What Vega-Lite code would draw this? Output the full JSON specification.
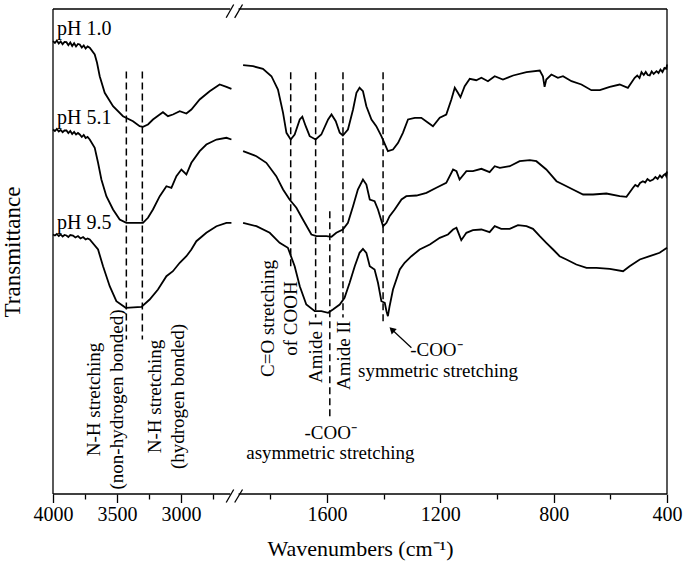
{
  "$schema": "https://vega.github.io/schema/vega-lite/v6.json",
  "description": "FTIR spectra at three pH values with a broken wavenumber axis.",
  "width": 614,
  "height": 485,
  "autosize": {"type": "none"},
  "padding": {"left": 53, "top": 9, "right": 18, "bottom": 75},
  "config": {
    "font": "Liberation Serif",
    "view": {"stroke": null},
    "text": {"font": "Liberation Serif", "color": "black"}
  },
  "datasets": {
    "spectra": [
      {"s": "1.0", "g": "L", "wn": 4000, "t": 452.8},
      {"s": "1.0", "g": "L", "wn": 3985, "t": 451},
      {"s": "1.0", "g": "L", "wn": 3970, "t": 453.5},
      {"s": "1.0", "g": "L", "wn": 3955, "t": 450.5},
      {"s": "1.0", "g": "L", "wn": 3940, "t": 452.5},
      {"s": "1.0", "g": "L", "wn": 3925, "t": 449.8},
      {"s": "1.0", "g": "L", "wn": 3910, "t": 452},
      {"s": "1.0", "g": "L", "wn": 3895, "t": 451.8},
      {"s": "1.0", "g": "L", "wn": 3880, "t": 448.8},
      {"s": "1.0", "g": "L", "wn": 3865, "t": 451.5},
      {"s": "1.0", "g": "L", "wn": 3850, "t": 448},
      {"s": "1.0", "g": "L", "wn": 3835, "t": 450.8},
      {"s": "1.0", "g": "L", "wn": 3820, "t": 447.5},
      {"s": "1.0", "g": "L", "wn": 3805, "t": 450},
      {"s": "1.0", "g": "L", "wn": 3791, "t": 449.5},
      {"s": "1.0", "g": "L", "wn": 3775, "t": 446.5},
      {"s": "1.0", "g": "L", "wn": 3760, "t": 448.5},
      {"s": "1.0", "g": "L", "wn": 3745, "t": 445.5},
      {"s": "1.0", "g": "L", "wn": 3730, "t": 447.5},
      {"s": "1.0", "g": "L", "wn": 3713, "t": 446.2},
      {"s": "1.0", "g": "L", "wn": 3674, "t": 439.5},
      {"s": "1.0", "g": "L", "wn": 3656, "t": 431.2},
      {"s": "1.0", "g": "L", "wn": 3635, "t": 417.8},
      {"s": "1.0", "g": "L", "wn": 3596, "t": 401.2},
      {"s": "1.0", "g": "L", "wn": 3531, "t": 387.8},
      {"s": "1.0", "g": "L", "wn": 3453, "t": 377.8},
      {"s": "1.0", "g": "L", "wn": 3375, "t": 372.8},
      {"s": "1.0", "g": "L", "wn": 3323, "t": 367.8},
      {"s": "1.0", "g": "L", "wn": 3297, "t": 367.2},
      {"s": "1.0", "g": "L", "wn": 3258, "t": 369.5},
      {"s": "1.0", "g": "L", "wn": 3219, "t": 374.5},
      {"s": "1.0", "g": "L", "wn": 3166, "t": 379.5},
      {"s": "1.0", "g": "L", "wn": 3141, "t": 381.8},
      {"s": "1.0", "g": "L", "wn": 3102, "t": 377.8},
      {"s": "1.0", "g": "L", "wn": 3063, "t": 379.5},
      {"s": "1.0", "g": "L", "wn": 3010, "t": 382.8},
      {"s": "1.0", "g": "L", "wn": 2958, "t": 380.5},
      {"s": "1.0", "g": "L", "wn": 2919, "t": 384.5},
      {"s": "1.0", "g": "L", "wn": 2854, "t": 394.5},
      {"s": "1.0", "g": "L", "wn": 2776, "t": 402.8},
      {"s": "1.0", "g": "L", "wn": 2698, "t": 409.5},
      {"s": "1.0", "g": "L", "wn": 2645, "t": 407.2},
      {"s": "1.0", "g": "L", "wn": 2606, "t": 405.2},
      {"s": "1.0", "g": "R", "wn": 1896, "t": 428.8},
      {"s": "1.0", "g": "R", "wn": 1861, "t": 427.8},
      {"s": "1.0", "g": "R", "wn": 1826, "t": 425.2},
      {"s": "1.0", "g": "R", "wn": 1796, "t": 417.8},
      {"s": "1.0", "g": "R", "wn": 1773, "t": 404.5},
      {"s": "1.0", "g": "R", "wn": 1755, "t": 381.2},
      {"s": "1.0", "g": "R", "wn": 1743, "t": 361.2},
      {"s": "1.0", "g": "R", "wn": 1728, "t": 354.5},
      {"s": "1.0", "g": "R", "wn": 1714, "t": 359.5},
      {"s": "1.0", "g": "R", "wn": 1696, "t": 374.5},
      {"s": "1.0", "g": "R", "wn": 1687, "t": 377.2},
      {"s": "1.0", "g": "R", "wn": 1675, "t": 367.8},
      {"s": "1.0", "g": "R", "wn": 1661, "t": 357.8},
      {"s": "1.0", "g": "R", "wn": 1640, "t": 354.5},
      {"s": "1.0", "g": "R", "wn": 1620, "t": 359.5},
      {"s": "1.0", "g": "R", "wn": 1596, "t": 374.5},
      {"s": "1.0", "g": "R", "wn": 1584, "t": 379.5},
      {"s": "1.0", "g": "R", "wn": 1569, "t": 372.8},
      {"s": "1.0", "g": "R", "wn": 1555, "t": 361.2},
      {"s": "1.0", "g": "R", "wn": 1544, "t": 358.5},
      {"s": "1.0", "g": "R", "wn": 1526, "t": 364.5},
      {"s": "1.0", "g": "R", "wn": 1508, "t": 384.5},
      {"s": "1.0", "g": "R", "wn": 1496, "t": 401.2},
      {"s": "1.0", "g": "R", "wn": 1485, "t": 406.2},
      {"s": "1.0", "g": "R", "wn": 1473, "t": 402.8},
      {"s": "1.0", "g": "R", "wn": 1461, "t": 387.8},
      {"s": "1.0", "g": "R", "wn": 1443, "t": 374.5},
      {"s": "1.0", "g": "R", "wn": 1426, "t": 367.8},
      {"s": "1.0", "g": "R", "wn": 1408, "t": 357.8},
      {"s": "1.0", "g": "R", "wn": 1385, "t": 342.8},
      {"s": "1.0", "g": "R", "wn": 1367, "t": 344.5},
      {"s": "1.0", "g": "R", "wn": 1349, "t": 351.2},
      {"s": "1.0", "g": "R", "wn": 1332, "t": 361.2},
      {"s": "1.0", "g": "R", "wn": 1314, "t": 374.5},
      {"s": "1.0", "g": "R", "wn": 1290, "t": 376.2},
      {"s": "1.0", "g": "R", "wn": 1267, "t": 376.2},
      {"s": "1.0", "g": "R", "wn": 1243, "t": 371.2},
      {"s": "1.0", "g": "R", "wn": 1226, "t": 367.8},
      {"s": "1.0", "g": "R", "wn": 1202, "t": 376.2},
      {"s": "1.0", "g": "R", "wn": 1179, "t": 379.5},
      {"s": "1.0", "g": "R", "wn": 1161, "t": 394.5},
      {"s": "1.0", "g": "R", "wn": 1149, "t": 406.2},
      {"s": "1.0", "g": "R", "wn": 1138, "t": 401.2},
      {"s": "1.0", "g": "R", "wn": 1129, "t": 396.8},
      {"s": "1.0", "g": "R", "wn": 1114, "t": 407.8},
      {"s": "1.0", "g": "R", "wn": 1096, "t": 415.2},
      {"s": "1.0", "g": "R", "wn": 1073, "t": 413.8},
      {"s": "1.0", "g": "R", "wn": 1055, "t": 416.2},
      {"s": "1.0", "g": "R", "wn": 1032, "t": 412.8},
      {"s": "1.0", "g": "R", "wn": 1008, "t": 417.8},
      {"s": "1.0", "g": "R", "wn": 979, "t": 414.5},
      {"s": "1.0", "g": "R", "wn": 943, "t": 418.5},
      {"s": "1.0", "g": "R", "wn": 896, "t": 421.8},
      {"s": "1.0", "g": "R", "wn": 849, "t": 423.5},
      {"s": "1.0", "g": "R", "wn": 838, "t": 417.8},
      {"s": "1.0", "g": "R", "wn": 832, "t": 407.2},
      {"s": "1.0", "g": "R", "wn": 826, "t": 414.5},
      {"s": "1.0", "g": "R", "wn": 808, "t": 419.5},
      {"s": "1.0", "g": "R", "wn": 785, "t": 416.2},
      {"s": "1.0", "g": "R", "wn": 767, "t": 417.8},
      {"s": "1.0", "g": "R", "wn": 737, "t": 412.8},
      {"s": "1.0", "g": "R", "wn": 702, "t": 409.5},
      {"s": "1.0", "g": "R", "wn": 667, "t": 403.8},
      {"s": "1.0", "g": "R", "wn": 637, "t": 403.8},
      {"s": "1.0", "g": "R", "wn": 602, "t": 407.2},
      {"s": "1.0", "g": "R", "wn": 567, "t": 409.5},
      {"s": "1.0", "g": "R", "wn": 538, "t": 406.2},
      {"s": "1.0", "g": "R", "wn": 514, "t": 416.2},
      {"s": "1.0", "g": "R", "wn": 505, "t": 418.5},
      {"s": "1.0", "g": "R", "wn": 497, "t": 416},
      {"s": "1.0", "g": "R", "wn": 490, "t": 421.8},
      {"s": "1.0", "g": "R", "wn": 482, "t": 419},
      {"s": "1.0", "g": "R", "wn": 475, "t": 422},
      {"s": "1.0", "g": "R", "wn": 468, "t": 419},
      {"s": "1.0", "g": "R", "wn": 461, "t": 418.5},
      {"s": "1.0", "g": "R", "wn": 454, "t": 422.5},
      {"s": "1.0", "g": "R", "wn": 447, "t": 420},
      {"s": "1.0", "g": "R", "wn": 437, "t": 422.8},
      {"s": "1.0", "g": "R", "wn": 430, "t": 421},
      {"s": "1.0", "g": "R", "wn": 423, "t": 424.5},
      {"s": "1.0", "g": "R", "wn": 416, "t": 422},
      {"s": "1.0", "g": "R", "wn": 409, "t": 426},
      {"s": "1.0", "g": "R", "wn": 402, "t": 425.2},
      {"s": "1.0", "g": "R", "wn": 400, "t": 429.5},

      {"s": "5.1", "g": "L", "wn": 4000, "t": 364.5},
      {"s": "5.1", "g": "L", "wn": 3985, "t": 363},
      {"s": "5.1", "g": "L", "wn": 3970, "t": 365},
      {"s": "5.1", "g": "L", "wn": 3955, "t": 362.5},
      {"s": "5.1", "g": "L", "wn": 3940, "t": 364},
      {"s": "5.1", "g": "L", "wn": 3925, "t": 361.8},
      {"s": "5.1", "g": "L", "wn": 3910, "t": 363.5},
      {"s": "5.1", "g": "L", "wn": 3895, "t": 363.5},
      {"s": "5.1", "g": "L", "wn": 3880, "t": 361},
      {"s": "5.1", "g": "L", "wn": 3865, "t": 363},
      {"s": "5.1", "g": "L", "wn": 3850, "t": 360},
      {"s": "5.1", "g": "L", "wn": 3835, "t": 362},
      {"s": "5.1", "g": "L", "wn": 3820, "t": 359.5},
      {"s": "5.1", "g": "L", "wn": 3805, "t": 361},
      {"s": "5.1", "g": "L", "wn": 3791, "t": 359.5},
      {"s": "5.1", "g": "L", "wn": 3775, "t": 357},
      {"s": "5.1", "g": "L", "wn": 3760, "t": 359},
      {"s": "5.1", "g": "L", "wn": 3745, "t": 356},
      {"s": "5.1", "g": "L", "wn": 3730, "t": 357},
      {"s": "5.1", "g": "L", "wn": 3713, "t": 354.5},
      {"s": "5.1", "g": "L", "wn": 3674, "t": 346.2},
      {"s": "5.1", "g": "L", "wn": 3648, "t": 331.2},
      {"s": "5.1", "g": "L", "wn": 3622, "t": 314.5},
      {"s": "5.1", "g": "L", "wn": 3583, "t": 297.8},
      {"s": "5.1", "g": "L", "wn": 3531, "t": 284.5},
      {"s": "5.1", "g": "L", "wn": 3479, "t": 274.5},
      {"s": "5.1", "g": "L", "wn": 3427, "t": 271.2},
      {"s": "5.1", "g": "L", "wn": 3297, "t": 271.2},
      {"s": "5.1", "g": "L", "wn": 3258, "t": 276.2},
      {"s": "5.1", "g": "L", "wn": 3219, "t": 284.5},
      {"s": "5.1", "g": "L", "wn": 3166, "t": 297.8},
      {"s": "5.1", "g": "L", "wn": 3114, "t": 307.8},
      {"s": "5.1", "g": "L", "wn": 3075, "t": 306.2},
      {"s": "5.1", "g": "L", "wn": 3036, "t": 317.8},
      {"s": "5.1", "g": "L", "wn": 2997, "t": 324.5},
      {"s": "5.1", "g": "L", "wn": 2958, "t": 319.5},
      {"s": "5.1", "g": "L", "wn": 2919, "t": 331.2},
      {"s": "5.1", "g": "L", "wn": 2854, "t": 342.8},
      {"s": "5.1", "g": "L", "wn": 2802, "t": 349.5},
      {"s": "5.1", "g": "L", "wn": 2723, "t": 354.5},
      {"s": "5.1", "g": "L", "wn": 2645, "t": 356.2},
      {"s": "5.1", "g": "L", "wn": 2606, "t": 354.5},
      {"s": "5.1", "g": "R", "wn": 1896, "t": 342.8},
      {"s": "5.1", "g": "R", "wn": 1849, "t": 337.8},
      {"s": "5.1", "g": "R", "wn": 1814, "t": 331.2},
      {"s": "5.1", "g": "R", "wn": 1779, "t": 317.8},
      {"s": "5.1", "g": "R", "wn": 1755, "t": 304.5},
      {"s": "5.1", "g": "R", "wn": 1732, "t": 294.5},
      {"s": "5.1", "g": "R", "wn": 1708, "t": 286.2},
      {"s": "5.1", "g": "R", "wn": 1685, "t": 274.5},
      {"s": "5.1", "g": "R", "wn": 1655, "t": 259.5},
      {"s": "5.1", "g": "R", "wn": 1637, "t": 257.8},
      {"s": "5.1", "g": "R", "wn": 1602, "t": 257.8},
      {"s": "5.1", "g": "R", "wn": 1584, "t": 257.2},
      {"s": "5.1", "g": "R", "wn": 1567, "t": 261.2},
      {"s": "5.1", "g": "R", "wn": 1544, "t": 264.5},
      {"s": "5.1", "g": "R", "wn": 1526, "t": 271.2},
      {"s": "5.1", "g": "R", "wn": 1508, "t": 287.8},
      {"s": "5.1", "g": "R", "wn": 1491, "t": 304.5},
      {"s": "5.1", "g": "R", "wn": 1473, "t": 314.5},
      {"s": "5.1", "g": "R", "wn": 1461, "t": 309.5},
      {"s": "5.1", "g": "R", "wn": 1449, "t": 294.5},
      {"s": "5.1", "g": "R", "wn": 1432, "t": 292.8},
      {"s": "5.1", "g": "R", "wn": 1420, "t": 284.5},
      {"s": "5.1", "g": "R", "wn": 1402, "t": 267.8},
      {"s": "5.1", "g": "R", "wn": 1390, "t": 271.2},
      {"s": "5.1", "g": "R", "wn": 1379, "t": 277.8},
      {"s": "5.1", "g": "R", "wn": 1361, "t": 284.5},
      {"s": "5.1", "g": "R", "wn": 1337, "t": 294.5},
      {"s": "5.1", "g": "R", "wn": 1320, "t": 297.8},
      {"s": "5.1", "g": "R", "wn": 1284, "t": 298.5},
      {"s": "5.1", "g": "R", "wn": 1249, "t": 301.2},
      {"s": "5.1", "g": "R", "wn": 1214, "t": 306.2},
      {"s": "5.1", "g": "R", "wn": 1179, "t": 311.2},
      {"s": "5.1", "g": "R", "wn": 1155, "t": 324.5},
      {"s": "5.1", "g": "R", "wn": 1143, "t": 322.8},
      {"s": "5.1", "g": "R", "wn": 1132, "t": 314.5},
      {"s": "5.1", "g": "R", "wn": 1108, "t": 322.8},
      {"s": "5.1", "g": "R", "wn": 1085, "t": 322.8},
      {"s": "5.1", "g": "R", "wn": 1055, "t": 325.2},
      {"s": "5.1", "g": "R", "wn": 1026, "t": 321.8},
      {"s": "5.1", "g": "R", "wn": 1008, "t": 327.8},
      {"s": "5.1", "g": "R", "wn": 990, "t": 326.2},
      {"s": "5.1", "g": "R", "wn": 955, "t": 327.8},
      {"s": "5.1", "g": "R", "wn": 920, "t": 332.8},
      {"s": "5.1", "g": "R", "wn": 884, "t": 333.8},
      {"s": "5.1", "g": "R", "wn": 861, "t": 332.8},
      {"s": "5.1", "g": "R", "wn": 826, "t": 324.5},
      {"s": "5.1", "g": "R", "wn": 790, "t": 312.8},
      {"s": "5.1", "g": "R", "wn": 767, "t": 309.5},
      {"s": "5.1", "g": "R", "wn": 732, "t": 304.5},
      {"s": "5.1", "g": "R", "wn": 696, "t": 299.5},
      {"s": "5.1", "g": "R", "wn": 661, "t": 299.5},
      {"s": "5.1", "g": "R", "wn": 614, "t": 300.5},
      {"s": "5.1", "g": "R", "wn": 567, "t": 297.8},
      {"s": "5.1", "g": "R", "wn": 543, "t": 297.2},
      {"s": "5.1", "g": "R", "wn": 520, "t": 306.2},
      {"s": "5.1", "g": "R", "wn": 512, "t": 309},
      {"s": "5.1", "g": "R", "wn": 503, "t": 307.5},
      {"s": "5.1", "g": "R", "wn": 495, "t": 311},
      {"s": "5.1", "g": "R", "wn": 485, "t": 312.8},
      {"s": "5.1", "g": "R", "wn": 477, "t": 311.5},
      {"s": "5.1", "g": "R", "wn": 469, "t": 315},
      {"s": "5.1", "g": "R", "wn": 460, "t": 313},
      {"s": "5.1", "g": "R", "wn": 449, "t": 314.5},
      {"s": "5.1", "g": "R", "wn": 441, "t": 317},
      {"s": "5.1", "g": "R", "wn": 433, "t": 315},
      {"s": "5.1", "g": "R", "wn": 425, "t": 318.5},
      {"s": "5.1", "g": "R", "wn": 418, "t": 316.5},
      {"s": "5.1", "g": "R", "wn": 412, "t": 318.8},
      {"s": "5.1", "g": "R", "wn": 406, "t": 320},
      {"s": "5.1", "g": "R", "wn": 403, "t": 318},
      {"s": "5.1", "g": "R", "wn": 400, "t": 322.5},

      {"s": "9.5", "g": "L", "wn": 4000, "t": 259.5},
      {"s": "9.5", "g": "L", "wn": 3985, "t": 258.5},
      {"s": "9.5", "g": "L", "wn": 3970, "t": 260},
      {"s": "9.5", "g": "L", "wn": 3955, "t": 258},
      {"s": "9.5", "g": "L", "wn": 3940, "t": 259.5},
      {"s": "9.5", "g": "L", "wn": 3925, "t": 257.5},
      {"s": "9.5", "g": "L", "wn": 3910, "t": 259},
      {"s": "9.5", "g": "L", "wn": 3895, "t": 258.5},
      {"s": "9.5", "g": "L", "wn": 3880, "t": 257},
      {"s": "9.5", "g": "L", "wn": 3865, "t": 259},
      {"s": "9.5", "g": "L", "wn": 3844, "t": 258.5},
      {"s": "9.5", "g": "L", "wn": 3825, "t": 256.5},
      {"s": "9.5", "g": "L", "wn": 3805, "t": 258},
      {"s": "9.5", "g": "L", "wn": 3785, "t": 255.5},
      {"s": "9.5", "g": "L", "wn": 3765, "t": 257},
      {"s": "9.5", "g": "L", "wn": 3745, "t": 254.5},
      {"s": "9.5", "g": "L", "wn": 3730, "t": 255.5},
      {"s": "9.5", "g": "L", "wn": 3713, "t": 254.5},
      {"s": "9.5", "g": "L", "wn": 3648, "t": 244.5},
      {"s": "9.5", "g": "L", "wn": 3609, "t": 227.8},
      {"s": "9.5", "g": "L", "wn": 3557, "t": 207.8},
      {"s": "9.5", "g": "L", "wn": 3505, "t": 192.8},
      {"s": "9.5", "g": "L", "wn": 3432, "t": 186.2},
      {"s": "9.5", "g": "L", "wn": 3309, "t": 187.2},
      {"s": "9.5", "g": "L", "wn": 3245, "t": 194.5},
      {"s": "9.5", "g": "L", "wn": 3180, "t": 204.5},
      {"s": "9.5", "g": "L", "wn": 3114, "t": 217.8},
      {"s": "9.5", "g": "L", "wn": 3063, "t": 222.8},
      {"s": "9.5", "g": "L", "wn": 3010, "t": 231.2},
      {"s": "9.5", "g": "L", "wn": 2958, "t": 237.8},
      {"s": "9.5", "g": "L", "wn": 2919, "t": 244.5},
      {"s": "9.5", "g": "L", "wn": 2880, "t": 252.8},
      {"s": "9.5", "g": "L", "wn": 2802, "t": 261.2},
      {"s": "9.5", "g": "L", "wn": 2723, "t": 267.8},
      {"s": "9.5", "g": "L", "wn": 2645, "t": 271.2},
      {"s": "9.5", "g": "L", "wn": 2606, "t": 271.2},
      {"s": "9.5", "g": "R", "wn": 1896, "t": 271.2},
      {"s": "9.5", "g": "R", "wn": 1849, "t": 267.8},
      {"s": "9.5", "g": "R", "wn": 1802, "t": 261.2},
      {"s": "9.5", "g": "R", "wn": 1767, "t": 251.2},
      {"s": "9.5", "g": "R", "wn": 1738, "t": 246.2},
      {"s": "9.5", "g": "R", "wn": 1714, "t": 227.8},
      {"s": "9.5", "g": "R", "wn": 1696, "t": 207.8},
      {"s": "9.5", "g": "R", "wn": 1673, "t": 189.5},
      {"s": "9.5", "g": "R", "wn": 1643, "t": 182.8},
      {"s": "9.5", "g": "R", "wn": 1620, "t": 182.8},
      {"s": "9.5", "g": "R", "wn": 1596, "t": 181.2},
      {"s": "9.5", "g": "R", "wn": 1579, "t": 184.5},
      {"s": "9.5", "g": "R", "wn": 1555, "t": 189.5},
      {"s": "9.5", "g": "R", "wn": 1538, "t": 196.2},
      {"s": "9.5", "g": "R", "wn": 1520, "t": 211.2},
      {"s": "9.5", "g": "R", "wn": 1502, "t": 227.8},
      {"s": "9.5", "g": "R", "wn": 1485, "t": 241.2},
      {"s": "9.5", "g": "R", "wn": 1473, "t": 245.2},
      {"s": "9.5", "g": "R", "wn": 1461, "t": 241.2},
      {"s": "9.5", "g": "R", "wn": 1449, "t": 227.8},
      {"s": "9.5", "g": "R", "wn": 1432, "t": 224.5},
      {"s": "9.5", "g": "R", "wn": 1420, "t": 211.2},
      {"s": "9.5", "g": "R", "wn": 1408, "t": 192.8},
      {"s": "9.5", "g": "R", "wn": 1396, "t": 191.2},
      {"s": "9.5", "g": "R", "wn": 1390, "t": 182.8},
      {"s": "9.5", "g": "R", "wn": 1385, "t": 177.8},
      {"s": "9.5", "g": "R", "wn": 1379, "t": 187.8},
      {"s": "9.5", "g": "R", "wn": 1367, "t": 204.5},
      {"s": "9.5", "g": "R", "wn": 1343, "t": 224.5},
      {"s": "9.5", "g": "R", "wn": 1326, "t": 231.2},
      {"s": "9.5", "g": "R", "wn": 1302, "t": 237.8},
      {"s": "9.5", "g": "R", "wn": 1273, "t": 244.5},
      {"s": "9.5", "g": "R", "wn": 1237, "t": 249.5},
      {"s": "9.5", "g": "R", "wn": 1202, "t": 256.2},
      {"s": "9.5", "g": "R", "wn": 1173, "t": 259.5},
      {"s": "9.5", "g": "R", "wn": 1155, "t": 264.5},
      {"s": "9.5", "g": "R", "wn": 1143, "t": 266.2},
      {"s": "9.5", "g": "R", "wn": 1126, "t": 253.8},
      {"s": "9.5", "g": "R", "wn": 1108, "t": 261.2},
      {"s": "9.5", "g": "R", "wn": 1085, "t": 263.8},
      {"s": "9.5", "g": "R", "wn": 1055, "t": 264.5},
      {"s": "9.5", "g": "R", "wn": 1026, "t": 261.8},
      {"s": "9.5", "g": "R", "wn": 1008, "t": 267.8},
      {"s": "9.5", "g": "R", "wn": 985, "t": 265.2},
      {"s": "9.5", "g": "R", "wn": 955, "t": 265.2},
      {"s": "9.5", "g": "R", "wn": 926, "t": 268.8},
      {"s": "9.5", "g": "R", "wn": 896, "t": 267.8},
      {"s": "9.5", "g": "R", "wn": 873, "t": 265.2},
      {"s": "9.5", "g": "R", "wn": 849, "t": 257.8},
      {"s": "9.5", "g": "R", "wn": 826, "t": 251.2},
      {"s": "9.5", "g": "R", "wn": 802, "t": 244.5},
      {"s": "9.5", "g": "R", "wn": 779, "t": 237.8},
      {"s": "9.5", "g": "R", "wn": 755, "t": 234.5},
      {"s": "9.5", "g": "R", "wn": 720, "t": 229.5},
      {"s": "9.5", "g": "R", "wn": 684, "t": 226.2},
      {"s": "9.5", "g": "R", "wn": 649, "t": 226.2},
      {"s": "9.5", "g": "R", "wn": 602, "t": 225.2},
      {"s": "9.5", "g": "R", "wn": 555, "t": 222.8},
      {"s": "9.5", "g": "R", "wn": 532, "t": 227.8},
      {"s": "9.5", "g": "R", "wn": 496, "t": 234.5},
      {"s": "9.5", "g": "R", "wn": 461, "t": 237.8},
      {"s": "9.5", "g": "R", "wn": 426, "t": 241.2},
      {"s": "9.5", "g": "R", "wn": 400, "t": 246.2}
    ],
    "frame": [
      {"wn": 4000, "wn2": 4000, "t": 0, "t2": 485},
      {"wn": 400, "wn2": 400, "t": 0, "t2": 485},
      {"wn": 4000, "wn2": 2615, "t": 0, "t2": 0},
      {"wn": 1912, "wn2": 400, "t": 0, "t2": 0},
      {"wn": 4000, "wn2": 2615, "t": 485, "t2": 485},
      {"wn": 1912, "wn2": 400, "t": 485, "t2": 485},
      {"wn": 2647, "wn2": 2351, "t": 476.2, "t2": 489.5},
      {"wn": 2185, "wn2": 1898, "t": 476.2, "t2": 489.5},
      {"wn": 2647, "wn2": 2351, "t": -8.5, "t2": 4.5},
      {"wn": 2185, "wn2": 1898, "t": -8.5, "t2": 4.5}
    ],
    "markers": [
      {"wn": 3427, "wn2": 3427, "t": 422.5, "t2": 154.5},
      {"wn": 3302, "wn2": 3302, "t": 422.5, "t2": 154.5},
      {"wn": 1728, "wn2": 1728, "t": 421.8, "t2": 226},
      {"wn": 1640, "wn2": 1640, "t": 421.8, "t2": 176.5},
      {"wn": 1543.5, "wn2": 1543.5, "t": 421.8, "t2": 176.5},
      {"wn": 1590, "wn2": 1590, "t": 282.8, "t2": 77.8},
      {"wn": 1402, "wn2": 1402, "t": 421.8, "t2": 169.5}
    ],
    "arrow": [
      {"wn": 1302, "wn2": 1371, "t": 146.2, "t2": 164.5}
    ],
    "phLabels": [
      {"wn": 3969, "t": 459.5, "label": "pH 1.0"},
      {"wn": 3969, "t": 370.5, "label": "pH 5.1"},
      {"wn": 3969, "t": 265.5, "label": "pH 9.5"}
    ],
    "flatNotes": [
      {"wn": 1587, "t": 55, "label": "-COO⁻"},
      {"wn": 1588, "t": 35, "label": "asymmetric stretching"},
      {"wn": 1214, "t": 138.5, "label": "-COO⁻"},
      {"wn": 1208, "t": 117, "label": "symmetric stretching"}
    ],
    "upNotes": [
      {"wn": 3680, "t": 94.5, "label": "N-H stretching|(non-hydrogen bonded)"},
      {"wn": 3200, "t": 97.5, "label": "N-H stretching|(hydrogen bonded)"},
      {"wn": 1808, "t": 175.5, "label": "C=O stretching|of COOH"},
      {"wn": 1640, "t": 142.5, "label": "Amide I"},
      {"wn": 1541, "t": 138.5, "label": "Amide II"}
    ]
  },
  "encoding": {
    "x": {
      "field": "wn",
      "type": "quantitative",
      "scale": {"domain": [4000, 2600, 1920, 400], "range": [0, 179.2, 183.3, 614], "nice": false, "zero": false},
      "axis": {
        "title": "Wavenumbers (cm⁻¹)",
        "values": [4000, 3750, 3500, 3250, 3000, 2750, 1800, 1600, 1400, 1200, 1000, 800, 600, 400],
        "format": "d",
        "labelExpr": "indexof([4000, 3500, 3000, 1600, 1200, 800, 400], datum.value) >= 0 ? datum.label : ''",
        "tickSize": {"condition": {"test": "indexof([3750, 3250, 2750, 1800, 1400, 1000, 600], datum.value) >= 0", "value": 5}, "value": 8.5},
        "tickColor": "black",
        "tickWidth": 1.3,
        "domain": false,
        "grid": false,
        "labelFont": "Liberation Serif",
        "labelFontSize": 20,
        "labelColor": "black",
        "labelPadding": 2,
        "labelFlush": false,
        "labelOverlap": false,
        "titleFont": "Liberation Serif",
        "titleFontSize": 22,
        "titleFontWeight": "normal",
        "titleColor": "black",
        "titlePadding": 14
      }
    },
    "y": {
      "field": "t",
      "type": "quantitative",
      "scale": {"domain": [0, 485], "nice": false, "zero": false},
      "axis": {
        "title": "Transmittance",
        "labels": false,
        "ticks": false,
        "domain": false,
        "grid": false,
        "titleFont": "Liberation Serif",
        "titleFontSize": 23,
        "titleFontWeight": "normal",
        "titleColor": "black",
        "titlePadding": 29
      }
    }
  },
  "layer": [
    {
      "data": {"name": "frame"},
      "mark": {"type": "rule", "color": "black", "strokeWidth": 1.3},
      "encoding": {"x2": {"field": "wn2"}, "y2": {"field": "t2"}}
    },
    {
      "data": {"name": "markers"},
      "mark": {"type": "rule", "color": "black", "strokeWidth": 1.5, "strokeDash": [7, 4]},
      "encoding": {"x2": {"field": "wn2"}, "y2": {"field": "t2"}}
    },
    {
      "data": {"name": "spectra"},
      "mark": {"type": "line", "color": "black", "strokeWidth": 1.8},
      "encoding": {"detail": [{"field": "s"}, {"field": "g"}]}
    },
    {
      "data": {"name": "arrow"},
      "mark": {"type": "rule", "color": "black", "strokeWidth": 1.2},
      "encoding": {"x2": {"field": "wn2"}, "y2": {"field": "t2"}}
    },
    {
      "data": {"name": "arrow"},
      "mark": {"type": "point", "shape": "triangle-up", "filled": true, "color": "black", "opacity": 1, "size": 55, "angle": -47},
      "encoding": {"x": {"field": "wn2"}, "y": {"field": "t2"}}
    },
    {
      "data": {"name": "phLabels"},
      "mark": {"type": "text", "align": "left", "baseline": "alphabetic", "fontSize": 20},
      "encoding": {"text": {"field": "label"}}
    },
    {
      "data": {"name": "flatNotes"},
      "mark": {"type": "text", "align": "center", "baseline": "alphabetic", "fontSize": 19},
      "encoding": {"text": {"field": "label"}}
    },
    {
      "data": {"name": "upNotes"},
      "mark": {"type": "text", "align": "center", "baseline": "middle", "fontSize": 19, "angle": 270, "lineBreak": "|", "lineHeight": 23},
      "encoding": {"text": {"field": "label"}}
    }
  ]
}
